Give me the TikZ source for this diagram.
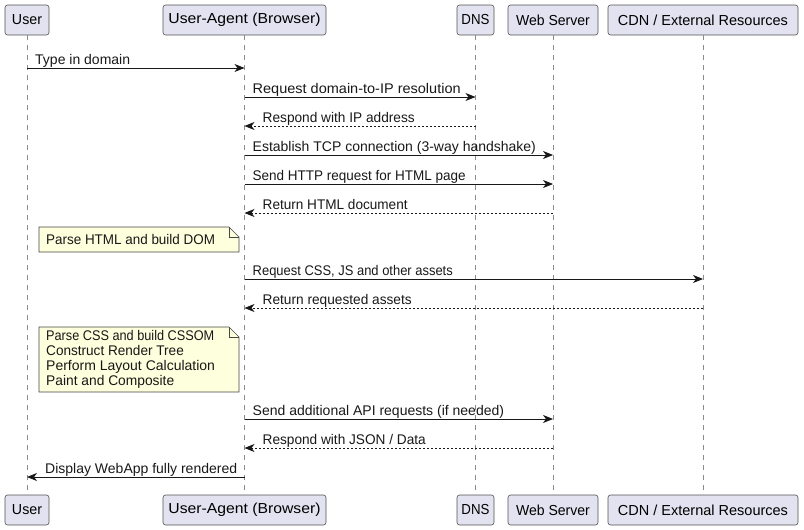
\documentclass[tikz,border=0pt]{standalone}
\usepackage{fontspec}
\setmainfont{Liberation Sans}
\usetikzlibrary{arrows.meta}
\definecolor{partfill}{HTML}{E2E2F0}
\definecolor{partline}{HTML}{181818}
\definecolor{notefill}{HTML}{FEFFDD}
\newcommand{\sxw}[2]{\scalebox{#1}[1]{#2}}
\begin{document}
\begin{tikzpicture}[x=1pt,y=-1pt,
  part/.style={draw=partline!75, fill=partfill, rounded corners=2.5pt, line width=0.6pt,
    minimum height=30pt, inner sep=0pt, font=\fontsize{14.5}{17}\selectfont},
  life/.style={draw=partline!50, dash pattern=on 5pt off 5pt, line width=0.6pt},
  msg/.style={draw=partline, line width=0.9pt, -{Stealth[length=10pt,width=8pt,inset=3pt]}},
  reply/.style={msg, dash pattern=on 2pt off 2pt},
  lbl/.style={font=\fontsize{14}{16}\selectfont, anchor=base west, inner sep=0pt, text=partline},
  notebox/.style={draw=partline!80, fill=notefill, line width=0.6pt},
  notetext/.style={font=\fontsize{14}{15}\selectfont, anchor=north west, inner sep=0pt, align=left, text=partline},
]
\useasboundingbox (0,0) rectangle (804,530);

% participants (top)
\node[part, minimum width=44pt]  (userT) at (27,20)    {\sxw{0.98}{User}};
\node[part, minimum width=163pt] (uaT)   at (244.5,20) {\sxw{1.085}{User-Agent (Browser)}};
\node[part, minimum width=37pt]  (dnsT)  at (475.5,20) {\sxw{0.915}{DNS}};
\node[part, minimum width=90pt]  (webT)  at (553,20)   {\sxw{0.967}{Web Server}};
\node[part, minimum width=190pt] (cdnT)  at (703,20)   {CDN / External Resources};
% participants (bottom)
\node[part, minimum width=44pt]  (userB) at (27,510)    {\sxw{0.98}{User}};
\node[part, minimum width=163pt] (uaB)   at (244.5,510) {\sxw{1.085}{User-Agent (Browser)}};
\node[part, minimum width=37pt]  (dnsB)  at (475.5,510) {\sxw{0.915}{DNS}};
\node[part, minimum width=90pt]  (webB)  at (553,510)   {\sxw{0.967}{Web Server}};
\node[part, minimum width=190pt] (cdnB)  at (703,510)   {CDN / External Resources};

% lifelines
\draw[life] (userT.south) -- (userB.north);
\draw[life] (uaT.south) -- (uaB.north);
\draw[life] (dnsT.south) -- (dnsB.north);
\draw[life] (webT.south) -- (webB.north);
\draw[life] (cdnT.south) -- (cdnB.north);

% message end points
\coordinate (m1a) at (27,68);    \coordinate (m1b) at (244.5,68);
\coordinate (m2a) at (244.5,97); \coordinate (m2b) at (475.5,97);
\coordinate (m3a) at (475.5,126);\coordinate (m3b) at (244.5,126);
\coordinate (m4a) at (244.5,155);\coordinate (m4b) at (553,155);
\coordinate (m5a) at (244.5,184);\coordinate (m5b) at (553,184);
\coordinate (m6a) at (553,213);  \coordinate (m6b) at (244.5,213);
\coordinate (m7a) at (244.5,279);\coordinate (m7b) at (703,279);
\coordinate (m8a) at (703,308);  \coordinate (m8b) at (244.5,308);
\coordinate (m9a) at (244.5,419);\coordinate (m9b) at (553,419);
\coordinate (m10a) at (553,448); \coordinate (m10b) at (244.5,448);
\coordinate (m11a) at (244.5,477);\coordinate (m11b) at (27,477);

\draw[msg]   (m1a) -- (m1b);
\node[lbl] (l1) at (35,64) {Type in domain};
\draw[msg]   (m2a) -- (m2b);
\node[lbl] (l2) at (252.5,93) {\sxw{1.036}{Request domain-to-IP resolution}};
\draw[reply] (m3a) -- (m3b);
\node[lbl] (l3) at (262.5,122) {\sxw{0.977}{Respond with IP address}};
\draw[msg]   (m4a) -- (m4b);
\node[lbl] (l4) at (252.5,151) {Establish TCP connection (3-way handshake)};
\draw[msg]   (m5a) -- (m5b);
\node[lbl] (l5) at (252.5,180) {\sxw{0.964}{Send HTTP request for HTML page}};
\draw[reply] (m6a) -- (m6b);
\node[lbl] (l6) at (262.5,209) {\sxw{0.97}{Return HTML document}};

% note 1
\draw[notebox] (39,227) -- (229,227) -- (239,237) -- (239,252) -- (39,252) -- cycle;
\draw[notebox, fill=none] (229,227) -- (229,237) -- (239,237);
\node[notetext] (n1) at (46,234) {\sxw{0.96}{Parse HTML and build DOM}};

\draw[msg]   (m7a) -- (m7b);
\node[lbl] (l7) at (252.5,275) {\sxw{0.925}{Request CSS, JS and other assets}};
\draw[reply] (m8a) -- (m8b);
\node[lbl] (l8) at (262.5,304) {\sxw{0.977}{Return requested assets}};

% note 2
\draw[notebox] (39,327) -- (229,327) -- (239,337) -- (239,392) -- (39,392) -- cycle;
\draw[notebox, fill=none] (229,327) -- (229,337) -- (239,337);
\node[notetext] (n2) at (46,330) {\sxw{0.908}{Parse CSS and build CSSOM}\\\sxw{0.97}{Construct Render Tree}\\Perform Layout Calculation\\\sxw{0.985}{Paint and Composite}};

\draw[msg]   (m9a) -- (m9b);
\node[lbl] (l9) at (252.5,415) {Send additional API requests (if needed)};
\draw[reply] (m10a) -- (m10b);
\node[lbl] (l10) at (262.5,444) {\sxw{0.975}{Respond with JSON / Data}};
\draw[msg]   (m11a) -- (m11b);
\node[lbl] (l11) at (45,473) {Display WebApp fully rendered};
\end{tikzpicture}
\end{document}
